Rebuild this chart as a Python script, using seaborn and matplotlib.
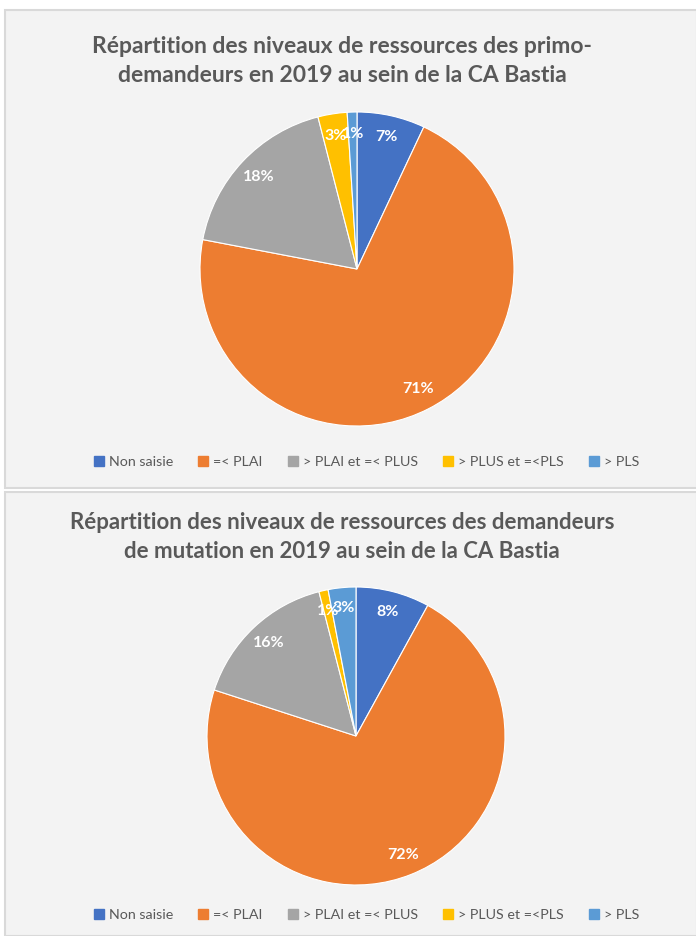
import matplotlib
matplotlib.use("Agg")
import matplotlib.pyplot as plt
import matplotlib.patches as mpatches
from matplotlib.lines import Line2D
import seaborn as sns

# Data
categories = ['Non saisie', '=< PLAI', '> PLAI et =< PLUS', '> PLUS et =<PLS', '> PLS']
primo_values = [7, 71, 18, 3, 1]
mutation_values = [8, 72, 16, 1, 3]
titles = ["Répartition des niveaux de ressources des primo-\ndemandeurs en 2019 au sein de la CA Bastia",
          "Répartition des niveaux de ressources des demandeurs\nde mutation en 2019 au sein de la CA Bastia"]

colors = ['#4472C4', '#ED7D31', '#A5A5A5', '#FFC000', '#5B9BD5']
text_gray = '#595959'

sns.set_theme(style="white")
plt.rcParams['font.family'] = ['Lato', 'DejaVu Sans']

W, H = 696, 936
fig = plt.figure(figsize=(W / 100, H / 100), dpi=100)
fig.patch.set_facecolor('white')


def px_rect(x0, y0, x1, y1):
    # image pixel coords (top-left origin) -> figure fraction
    return [x0 / W, 1 - y1 / H, (x1 - x0) / W, (y1 - y0) / H]


# panel backgrounds
for (y0, y1) in [(10, 488), (492, 936)]:
    l, b, w, h = px_rect(5, y0, 697, y1)
    fig.patches.append(mpatches.Rectangle((l, b), w, h, transform=fig.transFigure,
                                          facecolor='#f3f3f3', edgecolor='#d9d9d9',
                                          linewidth=1.5, zorder=-5))

panels = [
    dict(values=primo_values, cx=357, cy=269, r=157, title_y=61, title_fs=16.5, legend_y=462),
    dict(values=mutation_values, cx=356, cy=736, r=149, title_y=537, title_fs=16, legend_y=915),
]

for p, title in zip(panels, titles):
    ax = fig.add_axes(px_rect(p['cx'] - p['r'], p['cy'] - p['r'],
                              p['cx'] + p['r'], p['cy'] + p['r']))
    ax.set_zorder(2)
    ax.patch.set_alpha(0)
    wedges, texts, autotexts = ax.pie(p['values'], colors=colors, startangle=90,
                                      counterclock=False, autopct='%1.0f%%',
                                      pctdistance=0.86,
                                      wedgeprops=dict(linewidth=0.8, edgecolor='white'),
                                      textprops=dict(color='white', fontsize=11.5,
                                                     fontweight='bold'))
    ax.set_xlim(-1, 1)
    ax.set_ylim(-1, 1)
    ax.set_aspect('equal')
    ax.axis('off')

    fig.text(342 / W, 1 - p['title_y'] / H, title, ha='center', va='center',
             fontsize=p['title_fs'], fontweight='bold', color=text_gray, linespacing=1.45)

    handles = [Line2D([0], [0], marker='s', linestyle='none', markersize=7.5,
                      markerfacecolor=c, markeredgecolor=c) for c in colors]
    fig.legend(handles, categories, loc='center', ncol=5,
               bbox_to_anchor=(366 / W, 1 - p['legend_y'] / H),
               frameon=False, fontsize=10.3, labelcolor=text_gray,
               handletextpad=0.3, columnspacing=1.7, handlelength=0.8)

plt.savefig("out.png", dpi=100, facecolor=fig.get_facecolor())
